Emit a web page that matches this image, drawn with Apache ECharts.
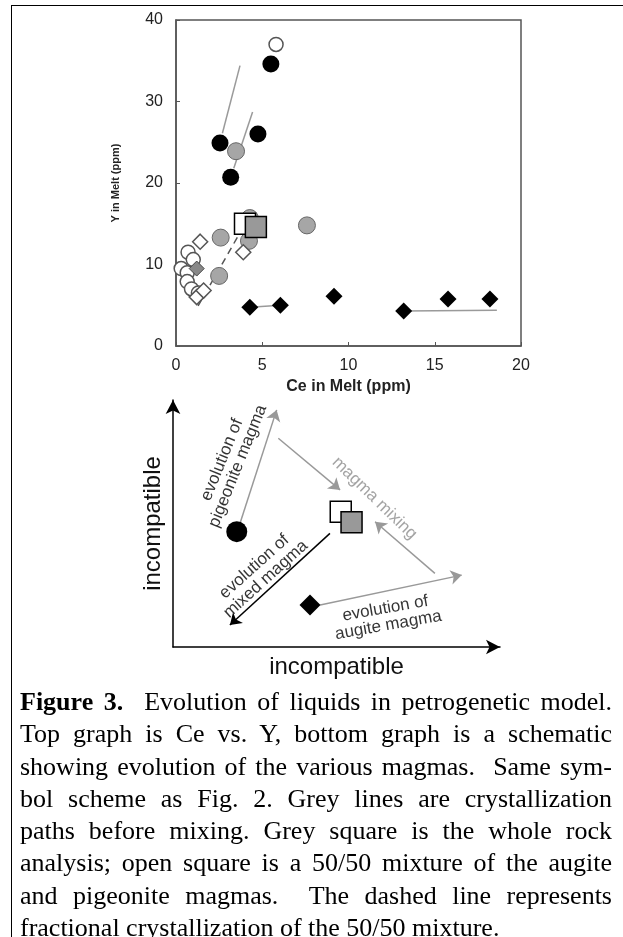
<!DOCTYPE html>
<html>
<head>
<meta charset="utf-8">
<script src="https://cdn.jsdelivr.net/npm/echarts@6/dist/echarts.min.js"></script>
<style>
    html, body { margin: 0; padding: 0; background: #fff; }
    .frame { position: absolute; left: 11px; top: 5px; width: 612px; height: 932px;
             border-left: 1.5px solid #000; border-top: 1.5px solid #000; }
    .box { position: absolute; left: 0; top: 0; width: 623px; height: 937px; }
    .caption { position: absolute; left: 20px; top: 686px; width: 592px;
               font-family: "Liberation Serif", "Times New Roman", serif; font-size: 26px;
               line-height: 32.3px; color: #000; }
    .caption div { text-align: justify; text-align-last: justify; white-space: nowrap; }
    .caption div.last { text-align-last: left; }
</style>
</head>
<body>
<div class="frame"></div>
<div class="box"></div>
<div class="caption">
    <div><b>Figure 3.</b>&nbsp; Evolution of liquids in petrogenetic model.</div>
    <div>Top graph is Ce vs. Y, bottom graph is a schematic</div>
    <div>showing evolution of the various magmas.&nbsp; Same sym-</div>
    <div>bol scheme as Fig. 2. Grey lines are crystallization</div>
    <div>paths before mixing. Grey square is the whole rock</div>
    <div>analysis; open square is a 50/50 mixture of the augite</div>
    <div>and pigeonite magmas.&nbsp; The dashed line represents</div>
    <div class="last">fractional crystallization of the 50/50 mixture.</div>
</div>
<script>
//*****Ce vs Y data (ppm)
var blackCircle = [[2.55, 24.9], [3.17, 20.7], [4.75, 26.0], [5.5, 34.6]]
var openCircle = [[5.8, 37.0], [0.7, 11.5], [1.0, 10.6], [0.3, 9.5], [0.65, 9.0], [0.65, 7.9], [0.9, 7.0], [1.3, 6.5]]
var greyCircle = [[3.48, 23.9], [2.59, 13.3], [2.5, 8.6], [4.28, 15.7], [4.23, 12.9], [7.59, 14.8]]
var openDiamond = [[1.4, 12.8], [3.9, 11.5], [1.2, 6.0], [1.6, 6.8]]
var greyDiamond = [[1.2, 9.5]]
var blackDiamond = [[4.28, 4.75], [6.05, 5.0], [9.16, 6.1], [13.2, 4.3], [15.77, 5.77], [18.2, 5.77]]
var openSquare = [[4.0, 15.0]]
var greySquare = [[4.63, 14.6]]
var crystPaths = [
    [[2.69, 26.1], [3.71, 34.4]],
    [[3.35, 21.8], [4.44, 28.7]],
    [[4.28, 4.75], [6.05, 5.0]],
    [[13.2, 4.3], [18.6, 4.4]]
]
var mixPath = [[3.9, 14.6], [1.25, 4.8]]
var xTicks = [0, 5, 10, 15, 20]
var yTicks = [0, 10, 20, 30, 40]

//*****schematic (arbitrary 0-100 units)
var sPigeonite = [[19.5, 46.7]]
var sAugite = [[41.9, 17.0]]
var sOpenSquare = [[51.3, 54.8]]
var sGreySquare = [[54.6, 50.5]]
var greyArrows = [
    [[20.5, 50.1], [31.7, 96.0]],
    [[32.2, 84.5], [51.1, 63.6]],
    [[80.1, 29.8], [61.8, 50.7]],
    [[45.0, 17.0], [88.3, 29.1]]
]
var blackArrows = [[[48.0, 46.0], [17.4, 8.9]]]
var sLabels = [
    { text: 'evolution of\npigeonite magma', at: [17.4, 74.5], rotate: 68, color: '#000' },
    { text: 'magma mixing', at: [61.6, 60.2], rotate: -44, color: '#8c8c8c' },
    { text: 'evolution of\nmixed magma', at: [26.6, 30.0], rotate: 42, color: '#000' },
    { text: 'evolution of\naugite magma', at: [65.4, 12.2], rotate: 10, color: '#000' }
]

function pts(data, symbol, size, fill, border, bw, grid) {
    return {
        type: 'scatter', xAxisIndex: grid, yAxisIndex: grid, symbol: symbol, symbolSize: size,
        data: data, silent: true, z: 3,
        itemStyle: { color: fill, borderColor: border, borderWidth: bw, opacity: 1 }
    }
}

function path(data, color, type, grid) {
    return {
        type: 'line', xAxisIndex: grid, yAxisIndex: grid, data: data, symbol: 'none', silent: true, z: 2,
        lineStyle: { color: color, width: 1.5, type: type }
    }
}

function arrows(data, color) {
    return {
        type: 'lines', coordinateSystem: 'cartesian2d', xAxisIndex: 1, yAxisIndex: 1,
        symbol: ['none', 'arrow'], symbolSize: 11, silent: true, z: 2,
        lineStyle: { color: color, width: 1.5, opacity: 1 },
        data: data.map(function (d) { return { coords: d } })
    }
}

function chart() {
    var myChart = echarts.init(document.querySelector('.box'))
    var tickFont = { fontFamily: 'Liberation Sans, Arial', fontSize: 16, color: '#222' }
    var series = []
    crystPaths.forEach(function (p) { series.push(path(p, '#9a9a9a', 'solid', 0)) })
    series.push(path(mixPath, '#555', [7, 5], 0))
    series.push(pts(greyCircle, 'circle', 17, '#a6a6a6', '#666', 1, 0))
    series.push(pts(openCircle, 'circle', 14, '#fff', '#555', 1.5, 0))
    series.push(pts(openDiamond, 'diamond', 15, '#fff', '#555', 1.5, 0))
    series.push(pts(greyDiamond, 'diamond', 15, '#888', '#444', 1, 0))
    series.push(pts(blackCircle, 'circle', 17, '#000', '#000', 0, 0))
    series.push(pts(blackDiamond, 'diamond', 17, '#000', '#000', 0, 0))
    series.push(pts(openSquare, 'rect', 21, '#fff', '#000', 1.5, 0))
    series.push(pts(greySquare, 'rect', 21, '#999', '#000', 1.5, 0))

    greyArrows.forEach(function (a) { series.push(arrows([a], '#999')) })
    series.push(arrows(blackArrows, '#000'))
    series.push(pts(sPigeonite, 'circle', 21, '#000', '#000', 0, 1))
    series.push(pts(sAugite, 'diamond', 21, '#000', '#000', 0, 1))
    series.push(pts(sOpenSquare, 'rect', 21, '#fff', '#000', 1.5, 1))
    series.push(pts(sGreySquare, 'rect', 21, '#999', '#000', 1.5, 1))
    sLabels.forEach(function (l) {
        series.push({
            type: 'scatter', xAxisIndex: 1, yAxisIndex: 1, symbolSize: 0, silent: true, z: 4,
            data: [l.at],
            label: {
                show: true, position: 'inside', rotate: l.rotate, formatter: l.text,
                fontFamily: 'Liberation Sans, Arial', fontSize: 17, lineHeight: 17, color: l.color
            }
        })
    })

    myChart.setOption({
        animation: false,
        grid: [
            { left: 176, top: 20, width: 345, height: 326, show: true, borderColor: '#555', borderWidth: 1.5, backgroundColor: 'transparent' },
            { left: 173, top: 400, width: 327, height: 247 }
        ],
        xAxis: [{
            gridIndex: 0, type: 'value', min: xTicks[0], max: xTicks[xTicks.length - 1], interval: 5,
            name: 'Ce in Melt (ppm)', nameLocation: 'middle', nameGap: 33,
            nameTextStyle: { fontFamily: 'Liberation Sans, Arial', fontWeight: 'bold', fontSize: 16, color: '#222' },
            axisLine: { lineStyle: { color: '#555', width: 1.5 } },
            axisTick: { inside: true, length: 4, lineStyle: { color: '#555' } },
            axisLabel: Object.assign({ margin: 12 }, tickFont),
            splitLine: { show: false }
        }, {
            gridIndex: 1, type: 'value', min: 0, max: 100,
            name: 'incompatible', nameLocation: 'middle', nameGap: 8,
            nameTextStyle: { fontFamily: 'Liberation Sans, Arial', fontSize: 24, color: '#111' },
            axisLine: { symbol: ['none', 'arrow'], symbolSize: [11, 14], lineStyle: { color: '#000', width: 1.5 } },
            axisTick: { show: false }, axisLabel: { show: false }, splitLine: { show: false }
        }],
        yAxis: [{
            gridIndex: 0, type: 'value', min: yTicks[0], max: yTicks[yTicks.length - 1], interval: 10,
            name: 'Y in Melt (ppm)', nameLocation: 'middle', nameGap: 55,
            nameTextStyle: { fontFamily: 'Liberation Sans, Arial', fontWeight: 'bold', fontSize: 11, color: '#222' },
            axisLine: { show: true, lineStyle: { color: '#555', width: 1.5 } },
            axisTick: { show: true, inside: true, length: 4, lineStyle: { color: '#555' } },
            axisLabel: Object.assign({ margin: 13 }, tickFont),
            splitLine: { show: false }
        }, {
            gridIndex: 1, type: 'value', min: 0, max: 100,
            name: 'incompatible', nameLocation: 'middle', nameGap: 8,
            nameTextStyle: { fontFamily: 'Liberation Sans, Arial', fontSize: 24, color: '#111' },
            axisLine: { show: true, symbol: ['none', 'arrow'], symbolSize: [11, 14], lineStyle: { color: '#000', width: 1.5 } },
            axisTick: { show: false }, axisLabel: { show: false }, splitLine: { show: false }
        }],
        series: series
    })
}

chart()
</script>
</body>
</html>
